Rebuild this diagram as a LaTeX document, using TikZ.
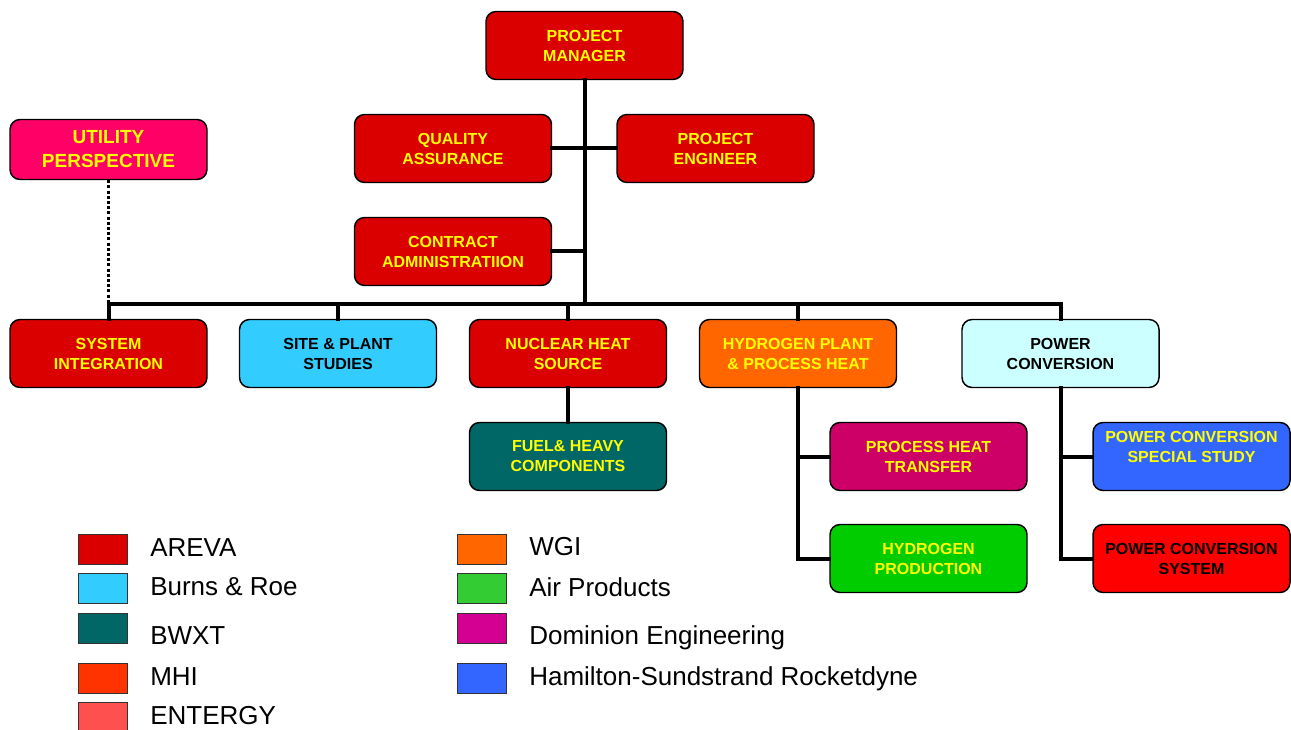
\documentclass[tikz,border=0pt]{standalone}
\usepackage{fontspec}
\setmainfont{Liberation Sans}
\definecolor{areva}{RGB}{218,0,0}
\definecolor{burns}{RGB}{51,204,255}
\definecolor{bwxt}{RGB}{0,102,102}
\definecolor{mhi}{RGB}{255,51,0}
\definecolor{entergy}{RGB}{255,80,80}
\definecolor{wgi}{RGB}{255,102,0}
\definecolor{airprod}{RGB}{51,204,51}
\definecolor{dominion}{RGB}{212,0,145}
\definecolor{hamilton}{RGB}{51,102,255}
\definecolor{utility}{RGB}{255,0,102}
\definecolor{pcbox}{RGB}{204,255,255}
\definecolor{phtbox}{RGB}{204,0,102}
\definecolor{h2box}{RGB}{0,204,0}
\definecolor{pcsys}{RGB}{255,0,0}
\definecolor{txtyellow}{RGB}{255,255,0}
\tikzset{
  orgbox/.style={draw=black, line width=1.1pt, rounded corners=7.5pt,
    minimum width=147.75pt, minimum height=51pt, inner sep=0pt, align=center,
    text=txtyellow, font=\bfseries\fontsize{12}{15}\selectfont},
  darktext/.style={text=black},
  conn/.style={line width=3pt, line cap=rect},
  dotconn/.style={line width=2.6pt, dash pattern=on 2.3pt off 1.6pt},
  legsq/.style={draw=black!80, line width=0.8pt, minimum width=36.75pt,
    minimum height=22.5pt, inner sep=0pt, anchor=north west},
  legtxt/.style={anchor=base west, inner sep=0pt, font=\fontsize{19.5}{22}\selectfont}
}
\begin{document}
\begin{tikzpicture}[x=0.75pt, y=-0.75pt]
\useasboundingbox (0,0) rectangle (1291,730);
\clip (0,0) rectangle (1291,730);
% top boxes
\node[orgbox, fill=areva] (pm) at (584.5,45.5) {PROJECT\\MANAGER};
\node[orgbox, fill=areva] (qa) at (453,148.5) {QUALITY\\ASSURANCE};
\node[orgbox, fill=areva] (pe) at (715.5,148.5) {PROJECT\\ENGINEER};
\node[orgbox, fill=areva] (ca) at (453,251.5) {CONTRACT\\ADMINISTRATIION};
\node[orgbox, fill=utility, minimum height=45pt, font=\bfseries\fontsize{14.25}{18}\selectfont] (up) at (108.5,149.5) {UTILITY\\PERSPECTIVE};
% second row
\node[orgbox, fill=areva] (si) at (108.5,353.5) {SYSTEM\\INTEGRATION};
\node[orgbox, fill=burns, darktext] (sp) at (338,353.5) {SITE \& PLANT\\STUDIES};
\node[orgbox, fill=areva] (nhs) at (568,353.5) {NUCLEAR HEAT\\SOURCE};
\node[orgbox, fill=wgi] (h2) at (798,353.5) {HYDROGEN PLANT\\\& PROCESS HEAT};
\node[orgbox, fill=pcbox, darktext] (pc) at (1060.5,353.5) {POWER\\CONVERSION};
% third level
\node[orgbox, fill=bwxt] (fuel) at (568,456.5) {FUEL\& HEAVY\\COMPONENTS};
\node[orgbox, fill=phtbox] (pht) at (928.5,456.5) {PROCESS HEAT\\TRANSFER};
\node[orgbox, fill=h2box] (hp) at (928.5,558.5) {HYDROGEN\\PRODUCTION};
\node[orgbox, fill=hamilton] (pcss) at (1191.5,456.5) {POWER CONVERSION\\SPECIAL STUDY\\\mbox{}};
\node[orgbox, fill=pcsys, darktext] (pcs) at (1191.5,558.5) {POWER CONVERSION\\SYSTEM};
% bus coordinates
\coordinate (busL) at (108.5,304);
\coordinate (busM) at (585,304);
\coordinate (busR) at (1061,304);
% connectors
\draw[conn] (pm.south -| busM) -- (busM);
\draw[conn] (qa.east) -- (pe.west);
\draw[conn] (ca.east) -- (ca.east -| busM);
\draw[conn] (busL) -- (busR);
\draw[conn] (busL) -- (si.north);
\draw[conn] (sp.north |- busL) -- (sp.north);
\draw[conn] (nhs.north |- busL) -- (nhs.north);
\draw[conn] (h2.north |- busL) -- (h2.north);
\draw[conn] (busR) -- (busR |- pc.north);
\draw[conn] (nhs.south) -- (fuel.north);
\draw[conn] (h2.south) |- (hp.west);
\draw[conn] (h2.south |- pht.west) -- (pht.west);
\draw[conn] (pc.south -| busR) |- (pcs.west);
\draw[conn] (busR |- pcss.west) -- (pcss.west);
\draw[dotconn] (up.south) -- (busL);
% legend left
\node[legsq, fill=areva] (lg1) at (78,534) {};
\node[legsq, fill=burns] (lg2) at (78,573) {};
\node[legsq, fill=bwxt] (lg3) at (78,613) {};
\node[legsq, fill=mhi] (lg4) at (78,663) {};
\node[legsq, fill=entergy] (lg5) at (78,702) {};
\node[legtxt] (lt1) at (150,556) {AREVA};
\node[legtxt] (lt2) at (150,595) {Burns \& Roe};
\node[legtxt] (lt3) at (150,644) {BWXT};
\node[legtxt] (lt4) at (150,685) {MHI};
\node[legtxt] (lt5) at (150,724) {ENTERGY};
% legend right
\node[legsq, fill=wgi] (lg6) at (457,534) {};
\node[legsq, fill=airprod] (lg7) at (457,573) {};
\node[legsq, fill=dominion] (lg8) at (457,613) {};
\node[legsq, fill=hamilton] (lg9) at (457,663) {};
\node[legtxt] (lt6) at (529,555) {WGI};
\node[legtxt] (lt7) at (529,596) {Air Products};
\node[legtxt] (lt8) at (529,644) {Dominion Engineering};
\node[legtxt] (lt9) at (529,685) {Hamilton-Sundstrand Rocketdyne};
\end{tikzpicture}
\end{document}
